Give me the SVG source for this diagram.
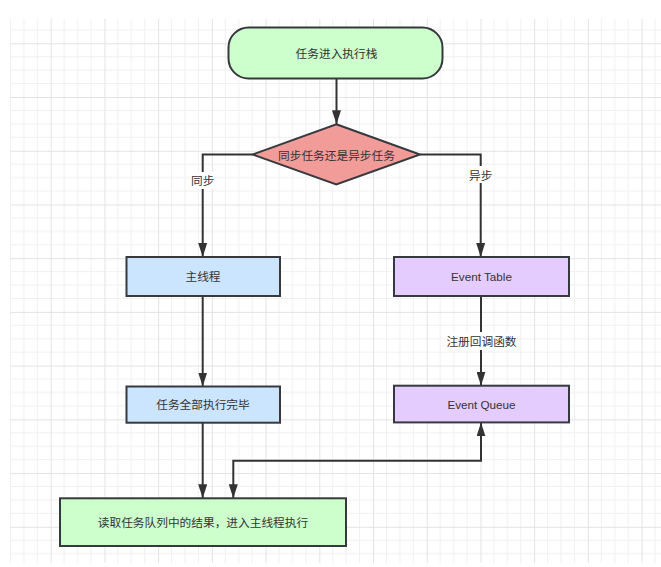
<svg xmlns="http://www.w3.org/2000/svg" width="661" height="567" viewBox="0 0 661 567">
<style>
.node{stroke:#36393d;stroke-width:2}
.lbl{font-family:"Liberation Sans","Noto Sans CJK SC",sans-serif;font-size:11.7px;fill:#333333;text-anchor:middle;dominant-baseline:central}
.edge{fill:none;stroke:#333333;stroke-width:2}
.minor{stroke:#f0f0f0;stroke-width:1}
.major{stroke:#e3e3e3;stroke-width:1}
</style>
<defs>
<pattern id="grid" patternUnits="userSpaceOnUse" x="50.7" y="43.3" width="53.72" height="53.72">
<line class="minor" x1="13.43" y1="0" x2="13.43" y2="53.72"/>
<line class="minor" x1="26.86" y1="0" x2="26.86" y2="53.72"/>
<line class="minor" x1="40.29" y1="0" x2="40.29" y2="53.72"/>
<line class="minor" x1="0" y1="13.43" x2="53.72" y2="13.43"/>
<line class="minor" x1="0" y1="26.86" x2="53.72" y2="26.86"/>
<line class="minor" x1="0" y1="40.29" x2="53.72" y2="40.29"/>
<line class="major" x1="0.5" y1="0" x2="0.5" y2="53.72"/>
<line class="major" x1="0" y1="0.5" x2="53.72" y2="0.5"/>
</pattern>
<marker id="arrow" markerUnits="userSpaceOnUse" viewBox="0 0 14 9" refX="14" refY="4.5" markerWidth="14" markerHeight="9" orient="auto-start-reverse">
<path d="M0,0 L14,4.5 L0,9 Z" fill="#333333"/>
</marker>
</defs>
<rect x="0" y="0" width="661" height="567" fill="#ffffff"/>
<rect x="10" y="19" width="651" height="544" fill="url(#grid)"/>

<g id="connectors">
<path class="edge" d="M336.5,78.3 V124.3" marker-end="url(#arrow)"/>
<path class="edge" d="M252.5,154.5 H202.7 V257" marker-end="url(#arrow)"/>
<path class="edge" d="M420,154.5 H480.7 V257" marker-end="url(#arrow)"/>
<path class="edge" d="M202.7,296 V386.5" marker-end="url(#arrow)"/>
<path class="edge" d="M481,296 V385.7" marker-end="url(#arrow)"/>
<path class="edge" d="M202.7,422.7 V498.3" marker-end="url(#arrow)"/>
<path class="edge" d="M233.3,498.3 V460.7 H481 V422.4" marker-start="url(#arrow)" marker-end="url(#arrow)"/>
<rect x="190" y="172" width="26" height="17" fill="#ffffff"/>
<text class="lbl" x="202.7" y="180.7">同步</text>
<rect x="468" y="166" width="26" height="17" fill="#ffffff"/>
<text class="lbl" x="480.7" y="175">异步</text>
<rect x="445" y="332" width="73" height="18" fill="#ffffff"/>
<text class="lbl" x="481.5" y="341">注册回调函数</text>
</g>

<g id="start">
<rect class="node" x="228.5" y="27.5" width="214" height="51" rx="20" ry="20" fill="#ccffcc"/>
<text class="lbl" x="336.5" y="53">任务进入执行栈</text>
</g>
<g id="decision">
<polygon class="node" points="336.3,124.3 420,154.5 336.3,184.5 252.5,154.5" fill="#f19c99"/>
<text class="lbl" x="336.5" y="155">同步任务还是异步任务</text>
</g>
<g id="mainThread">
<rect class="node" x="126.5" y="257" width="153.5" height="39" fill="#cce5ff"/>
<text class="lbl" x="203" y="276.3">主线程</text>
</g>
<g id="allDone">
<rect class="node" x="126.5" y="386.5" width="153.5" height="36.2" fill="#cce5ff"/>
<text class="lbl" x="203" y="404.3">任务全部执行完毕</text>
</g>
<g id="eventTable">
<rect class="node" x="394" y="257" width="175" height="39" fill="#e5ccff"/>
<text class="lbl" x="481.5" y="276.3">Event Table</text>
</g>
<g id="eventQueue">
<rect class="node" x="394" y="385.7" width="175" height="36.7" fill="#e5ccff"/>
<text class="lbl" x="481.5" y="404.3">Event Queue</text>
</g>
<g id="readQueue">
<rect class="node" x="60" y="498.3" width="286" height="47.7" fill="#ccffcc"/>
<text class="lbl" x="203" y="522.5">读取任务队列中的结果，进入主线程执行</text>
</g>
</svg>
